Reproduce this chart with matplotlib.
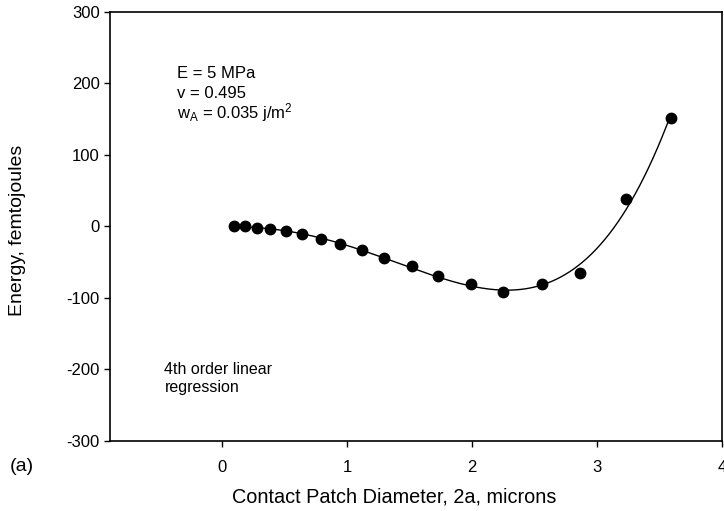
import numpy as np
import matplotlib
matplotlib.use("Agg")
import matplotlib.pyplot as plt

plt.rcParams['font.family'] = ['Liberation Sans', 'DejaVu Sans']
plt.rcParams['axes.unicode_minus'] = False

# measured points
diameter = [0.09, 0.18, 0.28, 0.385, 0.51, 0.635, 0.79, 0.94, 1.12, 1.295,
            1.515, 1.73, 1.99, 2.245, 2.56, 2.865, 3.235, 3.59]
energy = [0, 0, -2, -4, -6.5, -11, -18, -24, -33, -44,
          -56, -70, -81, -92, -80, -65, 38, 151]

x_ticks = [0, 1, 2, 3, 4]
y_ticks = [-300, -200, -100, 0, 100, 200, 300]

# 4th order fit for the curve
coef = np.polyfit(diameter, energy, 4)
xs = np.linspace(min(diameter), max(diameter), 200)
ys = np.polyval(coef, xs)

fig = plt.figure(figsize=(7.24, 5.11), dpi=100)
ax = fig.add_axes([0.152, 0.137, 0.845, 0.84])

ax.plot(xs, ys, color='black', lw=1.0)
ax.plot(diameter, energy, 'o', color='black', markersize=7.5)

ax.set_xlim(-0.9, 4)
ax.set_ylim(-300, 300)
ax.set_xticks(x_ticks)
ax.set_yticks(y_ticks)
ax.tick_params(direction='out', length=4.5, width=1, labelsize=12)
ax.tick_params(axis='x', pad=9)
ax.tick_params(axis='y', pad=3)
for s in ax.spines.values():
    s.set_linewidth(1.2)

ax.set_xlabel('Contact Patch Diameter, 2a, microns', fontsize=14.3)
ax.xaxis.set_label_coords(0.464, -0.108)
ax.set_ylabel('Energy, femtojoules', fontsize=14)
ax.yaxis.set_label_coords(-0.137, 0.49)

ax.text(-0.36, 214, 'E = 5 MPa', fontsize=12, va='center')
ax.text(-0.36, 186, 'v = 0.495', fontsize=12, va='center')
ax.text(-0.36, 159, r'$\mathregular{w_A}$ = 0.035 j/m$\mathregular{^2}$',
        fontsize=12, va='center')
ax.text(-0.464, -212, '4th order linear\nregression', fontsize=11.5,
        va='center', linespacing=1.25)

fig.text(0.013, 0.088, '(a)', fontsize=14, va='center')

fig.savefig('out.png', dpi=100)
